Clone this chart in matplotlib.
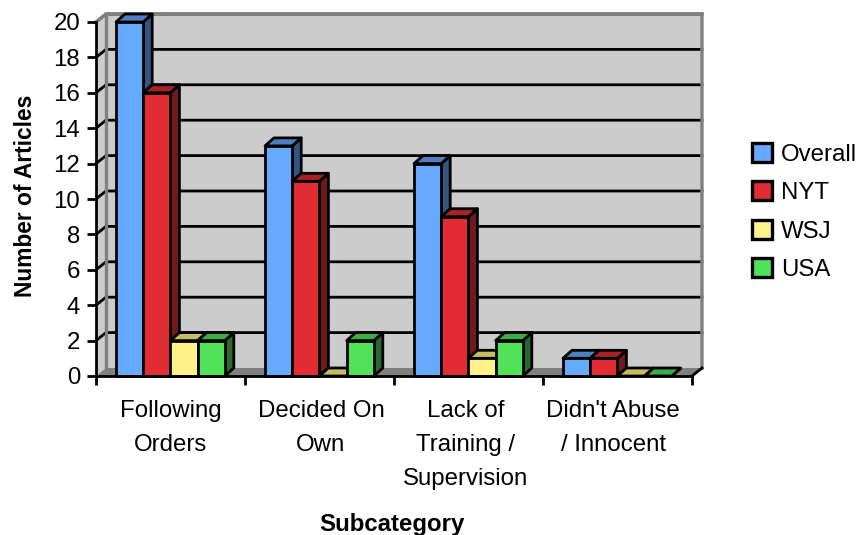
import matplotlib
matplotlib.use("Agg")
import numpy as np
import matplotlib.pyplot as plt
from matplotlib.patches import Polygon, Patch

plt.rcParams['font.family'] = ['Liberation Sans', 'DejaVu Sans']

categories = ["Following\nOrders", "Decided On\nOwn", "Lack of\nTraining /\nSupervision", "Didn't Abuse\n/ Innocent"]
label_pos = [0.5, 1.51, 2.48, 3.47]
series = ["Overall", "NYT", "WSJ", "USA"]
overall = [20, 13, 12, 1]
nyt = [16, 11, 9, 1]
wsj = [2, 0, 1, 0]
usa = [2, 2, 2, 0]

# front, top and side shades of each series
front_cols = ["#66aaff", "#e02c32", "#fff28a", "#50e35a"]
top_cols = ["#4c80c0", "#a82226", "#c8bc62", "#3cac44"]
side_cols = ["#33557f", "#701a1c", "#80794a", "#276a2c"]

W, H = 859, 535
PX_X = 4 / 596.0      # data units per pixel along x
PX_Y = 20 / 354.0     # data units per pixel along y
DX = 10 * PX_X        # depth of the box
DY = 8 * PX_Y
BAR_DX = 9 * PX_X
BAR_DY = 8 * PX_Y
BAR_W = 27.2 / 149.0
GAP = 20 / 149.0
LW = 2.0

fig = plt.figure(figsize=(W / 100, H / 100), dpi=100, facecolor="white")
ax = fig.add_axes([96 / W, (H - 376) / H, 596 / W, 354 / H])
ax.set_xlim(0, 4)
ax.set_ylim(0, 20)
ax.patch.set_visible(False)


def poly(pts, fc, ec="none", lw=0, z=1.0):
    ax.add_patch(Polygon(pts, closed=True, facecolor=fc, edgecolor=ec, linewidth=lw,
                         clip_on=False, zorder=z, joinstyle="round"))


# walls and floor
poly([(0, 0), (DX, DY), (DX, 20 + DY), (0, 20)], "#cccccc", z=1.0)
poly([(DX, DY), (4 + DX, DY), (4 + DX, 20 + DY), (DX, 20 + DY)], "#cccccc", z=1.0)
poly([(0, 0), (4, 0), (4 + DX, DY), (DX, DY)], "#808080", z=1.1)

# gridlines on the back wall, running down the side wall to the ticks
for v in range(2, 21, 2):
    ax.plot([0, DX, 4 + DX], [v, v + DY, v + DY], color="black", lw=LW, clip_on=False, zorder=1.2,
            solid_joinstyle="miter")

# wall outline
ax.plot([0, DX, 4 + DX, 4 + DX], [20, 20 + DY, 20 + DY, DY], color="#808080", lw=2.4, clip_on=False,
        zorder=1.3, solid_joinstyle="miter")
ax.plot([DX, DX], [DY, 20 + DY], color="#808080", lw=2.4, clip_on=False, zorder=1.3)
ax.plot([4, 4 + DX], [0, DY], color="black", lw=LW, clip_on=False, zorder=1.3)

# bars, left to right so each front face covers the side of the previous bar
values = [overall, nyt, wsj, usa]
z = 1.5
for c in range(len(categories)):
    for s in range(len(series)):
        v = values[s][c]
        x0 = c + GAP + s * BAR_W
        x1 = x0 + BAR_W
        z += 0.01
        poly([(x1, 0), (x1 + BAR_DX, BAR_DY), (x1 + BAR_DX, v + BAR_DY), (x1, v)], side_cols[s], "black", LW, z)
        poly([(x0, v), (x1, v), (x1 + BAR_DX, v + BAR_DY), (x0 + BAR_DX, v + BAR_DY)], top_cols[s], "black", LW, z)
        if v > 0:
            poly([(x0, 0), (x1, 0), (x1, v), (x0, v)], front_cols[s], "black", LW, z)

# axes
for side in ["top", "right"]:
    ax.spines[side].set_visible(False)
for side in ["left", "bottom"]:
    ax.spines[side].set_linewidth(LW)
    ax.spines[side].set_zorder(3)
ax.set_yticks(range(0, 21, 2))
ax.set_xticks(range(0, 5))
ax.set_xticklabels([])
ax.set_xticks(label_pos, labels=categories, minor=True)
ax.tick_params(axis="both", which="major", length=6.5, width=LW, labelsize=17.3, pad=5)
ax.tick_params(axis="x", which="minor", length=0, labelsize=17.3, pad=17)
for lab in ax.get_xticklabels(minor=True):
    lab.set_linespacing(1.72)

fig.text(26 / W, 1 - 196 / H, "Number of Articles", rotation=90, ha="center", va="center",
         fontsize=16.4, fontweight="bold")
fig.text(392 / W, 1 - 524 / H, "Subcategory", ha="center", va="center", fontsize=17.3, fontweight="bold")

handles = [Patch(facecolor=front_cols[i], edgecolor="black", linewidth=2.4) for i in range(4)]
fig.legend(handles, series, loc="upper left", bbox_to_anchor=(752 / W, 1 - 143 / H), frameon=False,
           fontsize=17.3, handlelength=0.83, handleheight=0.83, handletextpad=0.38, labelspacing=0.65,
           borderpad=0, borderaxespad=0)

fig.savefig("out.png", dpi=100)
